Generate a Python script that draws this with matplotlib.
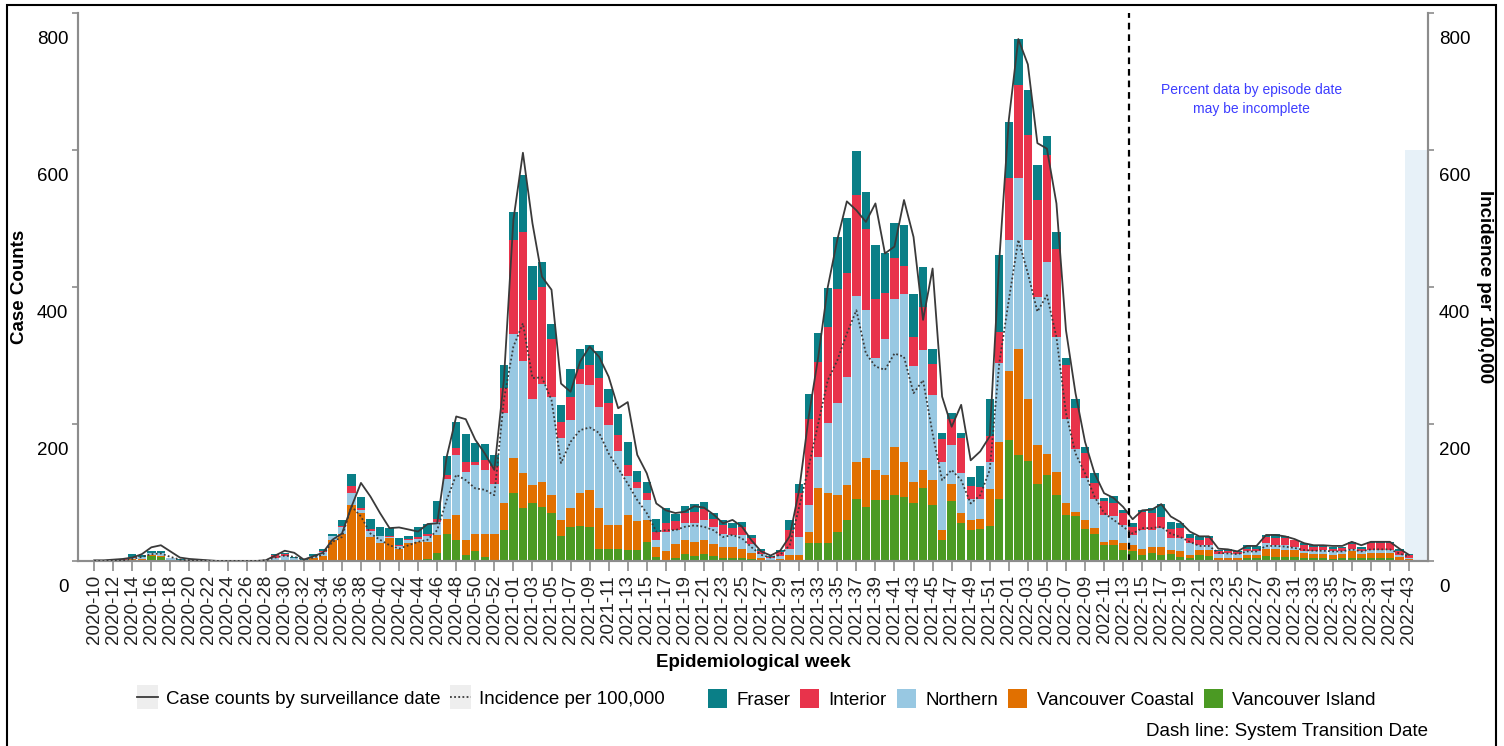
import matplotlib
matplotlib.use("Agg")
import matplotlib.pyplot as plt
import matplotlib.transforms as mtransforms
from matplotlib.patches import Rectangle, Patch
from matplotlib.lines import Line2D
from matplotlib.legend_handler import HandlerLine2D
import numpy as np

plt.rcParams['font.family'] = ['Liberation Sans', 'DejaVu Sans']

# epidemiological weeks 2020-10 .. 2022-43 (2020 has 53 weeks)
weeks = ([f"2020-{w:02d}" for w in range(10, 54)] +
         [f"2021-{w:02d}" for w in range(1, 53)] +
         [f"2022-{w:02d}" for w in range(1, 44)])

# weekly case counts by health authority
vancouver_island = [0,0,0,1,2,2,8,6,1,0, 0,0,0,0,0,0,0,0,0,0, 0,0,0,0,0,0,0,0,0,0,
                    0,0,0,1,2,3,11,40,31,9, 14,6,0,45,99,77,84,79,70,36,
                    50,51,49,17,17,17,16,16,28,6, 2,5,10,8,10,8,5,5,4,3,
                    1,0,0,0,0,26,26,26,43,60, 90,79,89,89,96,93,84,106,82,30,
                    87,56,45,47,51,91,177,155,146,113, 126,96,67,65,47,40,23,23,16,14,
                    9,11,9,10,6,4,9,7,2,2, 2,4,4,7,6,6,6,5,4,4, 3,4,5,4,5,5,5,2,1]
vancouver_coastal = [0,0,1,0,1,1,1,1,0,1, 0,0,0,0,0,0,0,0,0,0, 1,1,1,5,7,30,40,82,70,35,
                     27,33,17,25,26,25,27,22,36,22, 26,34,40,39,52,51,27,37,26,24,
                     27,48,55,60,36,36,51,42,32,15, 12,20,20,20,20,17,15,15,14,9,
                     4,2,3,9,9,17,80,73,53,51, 55,71,44,37,71,52,32,27,36,15,
                     26,14,15,14,54,82,101,154,91,56, 30,34,17,7,13,8,5,8,10,9,
                     9,10,12,6,8,5,7,9,3,3, 3,5,5,11,11,10,10,6,6,6, 6,6,9,6,7,7,6,4,2]
northern = [0,0,0,1,2,3,3,4,3,1, 1,1,0,0,0,0,0,0,1,5, 6,3,1,2,6,6,10,17,5,9,
            9,2,5,4,4,8,19,58,88,99, 100,93,73,132,181,164,126,143,144,119,
            129,160,153,148,146,108,57,48,29,10, 29,20,25,27,30,25,20,18,20,13,
            5,2,5,9,26,39,46,102,134,158, 242,216,163,198,216,245,168,175,124,100,
            56,59,30,30,40,116,190,250,232,217, 281,197,124,92,61,42,39,34,27,15,
            27,24,27,17,19,17,7,7,5,6, 5,5,5,8,6,7,5,4,5,6, 5,4,4,4,4,4,5,3,2]
interior = [0,1,1,1,1,0,0,0,0,0, 1,0,1,0,0,0,0,0,0,4, 3,1,0,0,1,0,1,11,3,2,
            1,1,1,2,3,4,4,6,10,15, 5,14,25,36,137,189,144,141,84,24,
            34,22,29,42,31,23,16,10,10,12, 12,13,15,17,16,12,12,10,12,8,
            5,2,5,27,64,126,139,141,167,151, 147,118,87,67,59,41,43,63,46,33,
            39,51,20,17,37,46,91,136,153,141, 156,129,78,59,37,24,21,19,17,12,
            26,25,16,13,15,7,8,10,5,4, 3,4,4,9,10,10,9,8,6,5, 4,5,7,4,10,10,10,5,4]
fraser = [1,0,0,0,4,3,2,3,1,1, 0,0,0,0,0,0,0,0,1,1, 1,1,1,3,4,4,9,17,16,16,
          12,12,10,5,14,14,26,27,38,41, 27,24,17,34,41,82,50,37,22,25,
          41,28,29,39,21,31,34,16,17,18, 23,10,10,11,10,8,8,7,7,5,
          3,2,3,15,14,36,42,57,76,80, 64,55,79,58,52,59,63,58,22,9,
          8,7,12,30,55,112,82,67,66,51, 27,25,11,14,9,15,4,11,5,6,
          4,7,19,11,8,7,5,3,1,3, 2,5,4,3,6,3,1,3,2,2, 3,2,3,3,2,2,2,3,1]

# case counts by surveillance date (left axis)
case_counts = [1,1,2,3,5,10,20,23,14,5, 3,2,1,0,0,0,0,0,1,8, 15,12,2,7,12,31,40,79,114,94,
               70,48,49,46,43,54,55,152,211,207, 177,157,133,264,498,596,493,415,396,259,
               247,291,313,298,269,223,232,155,128,84, 74,70,72,80,78,68,55,60,50,30,
               14,8,15,36,104,211,298,400,469,525, 512,495,522,449,459,527,473,352,427,240,
               196,228,147,160,182,439,644,762,725,610, 602,522,337,245,174,128,99,92,79,61,
               74,75,83,65,57,43,36,36,18,17, 14,22,22,38,38,36,32,26,23,23, 22,22,28,23,28,28,28,18,9]
# incidence per 100,000 (right axis)
incidence = [0,0,1,1,3,6,10,11,6,2, 1,1,0,0,0,0,0,0,1,5, 8,6,2,5,9,28,35,80,65,40,
             31,23,18,23,28,31,45,89,126,118, 106,104,96,235,313,347,267,268,235,143,
             174,191,195,187,157,135,113,89,70,43, 45,45,50,52,50,45,35,38,33,20,
             9,5,9,23,79,138,201,264,293,332, 366,303,284,279,303,298,245,264,186,118,
             133,118,84,96,133,289,381,469,420,364, 388,327,216,157,128,94,70,60,50,40,
             48,48,50,40,35,28,22,22,12,11, 10,14,14,22,22,21,19,16,15,15, 14,14,17,14,17,17,17,11,6]

regions = ["Vancouver Island", "Vancouver Coastal", "Northern", "Interior", "Fraser"]
colors = {"Fraser": "#0a7f87", "Interior": "#e8334b", "Northern": "#98c8e2",
          "Vancouver Coastal": "#e17000", "Vancouver Island": "#4b9a23"}
series = {"Vancouver Island": vancouver_island, "Vancouver Coastal": vancouver_coastal,
          "Northern": northern, "Interior": interior, "Fraser": fraser}

transition_pos = 108.6
incomplete_start = 137.55


class BoxedLine(HandlerLine2D):
    # line key drawn on a light grey square, like the original legend
    def create_artists(self, legend, orig_handle, xdescent, ydescent, width, height, fontsize, trans):
        arts = super().create_artists(legend, orig_handle, xdescent, ydescent, width, height, fontsize, trans)
        box = Rectangle((-xdescent, -ydescent - 0.45 * height), width, 1.9 * height,
                        facecolor="#eeeeee", edgecolor="none", transform=trans)
        return [box] + list(arts)


fig = plt.figure(figsize=(15.04, 7.46), dpi=100)
ax = fig.add_axes([78/1504, 1-561/746, 1350/1504, 548/746])
ax2 = ax.twinx()

x = np.arange(len(weeks))
bottom = np.zeros(len(weeks))
for r in regions:
    v = np.array(series[r])
    ax.bar(x, v, 0.88, bottom=bottom, color=colors[r], linewidth=0, zorder=2)
    bottom += v

ax.add_patch(Rectangle((incomplete_start, 0), 3, 600, facecolor="#e7f1f8", edgecolor="none", zorder=1))
ax.plot(x, case_counts, color="#3a3a3a", lw=1.3, zorder=4)
ax2.plot(x, incidence, color="#3a3a3a", lw=1.3, ls=(0, (1, 1.3)), zorder=4)
ax.axvline(transition_pos, color="black", lw=1.6, ls=(0, (3, 2.2)), zorder=5)
ax.text(121.5, 674, "Percent data by episode date\nmay be incomplete", ha="center", va="center",
        color="#3d3dff", fontsize=10, linespacing=1.45)

for a in (ax, ax2):
    a.set_xlim(-1.7, 140.0)
    a.set_ylim(0, 800)
    a.set_yticks([0, 200, 400, 600, 800])
    for s in a.spines.values():
        s.set_color("#8c8c8c")
        s.set_linewidth(1.5)
    a.spines["top"].set_visible(False)

ax.set_xticks(x[::2])
ax.set_xticklabels(weeks[::2], rotation=90, fontsize=13.5, color="#222222")
ax.tick_params(axis="x", length=7, width=1.2, color="#8c8c8c", pad=3)
ax.tick_params(axis="y", length=4, width=1.2, color="#8c8c8c", labelsize=13.5, pad=3)
ax2.tick_params(axis="y", length=4, width=1.2, color="#8c8c8c", labelsize=13.5, pad=4)

# tick labels of the y axes sit below their ticks in the original
off = mtransforms.ScaledTranslation(0, -25/100, fig.dpi_scale_trans)
for a in (ax, ax2):
    for lab in a.get_yticklabels():
        lab.set_transform(lab.get_transform() + off)

ax.set_ylabel("Case Counts", fontsize=13.5, fontweight="bold", va="center")
ax.yaxis.set_label_coords(-0.043, 0.5)
ax2.set_ylabel("Incidence per 100,000", fontsize=13.5, fontweight="bold", rotation=270, va="center")
ax2.yaxis.set_label_coords(1.042, 0.5)
ax.set_xlabel("Epidemiological week", fontsize=13.5, fontweight="bold", va="center")
ax.xaxis.set_label_coords(0.5, -0.186)

line_handles = [Line2D([], [], color="#3a3a3a", lw=1.3),
                Line2D([], [], color="#3a3a3a", lw=1.3, ls=(0, (1, 1.3)))]
leg1 = fig.legend(line_handles, ["Case counts by surveillance date", "Incidence per 100,000"],
                  loc="center left", bbox_to_anchor=(137/1504, 1-699/746), ncol=2, frameon=False,
                  fontsize=13.5, handlelength=1.12, handletextpad=0.43, columnspacing=0.48,
                  borderpad=0, borderaxespad=0, handler_map={Line2D: BoxedLine()})
order = ["Fraser", "Interior", "Northern", "Vancouver Coastal", "Vancouver Island"]
patch_handles = [Patch(facecolor=colors[r], edgecolor="none") for r in order]
leg2 = fig.legend(patch_handles, order, loc="center left", bbox_to_anchor=(708/1504, 1-699/746),
                  ncol=5, frameon=False, fontsize=13.5, handlelength=1.0, handleheight=1.15,
                  handletextpad=0.5, columnspacing=0.55, borderpad=0, borderaxespad=0)

fig.text(1428/1504, 1-732/746, "Dash line: System Transition Date", ha="right", va="center",
         fontsize=13.5)

fig.add_artist(Rectangle((7/1504, -0.02), 1489/1504, 1.02 - 5/746, transform=fig.transFigure,
                         facecolor="none", edgecolor="black", lw=1.5))

fig.savefig("out.png", dpi=100)
